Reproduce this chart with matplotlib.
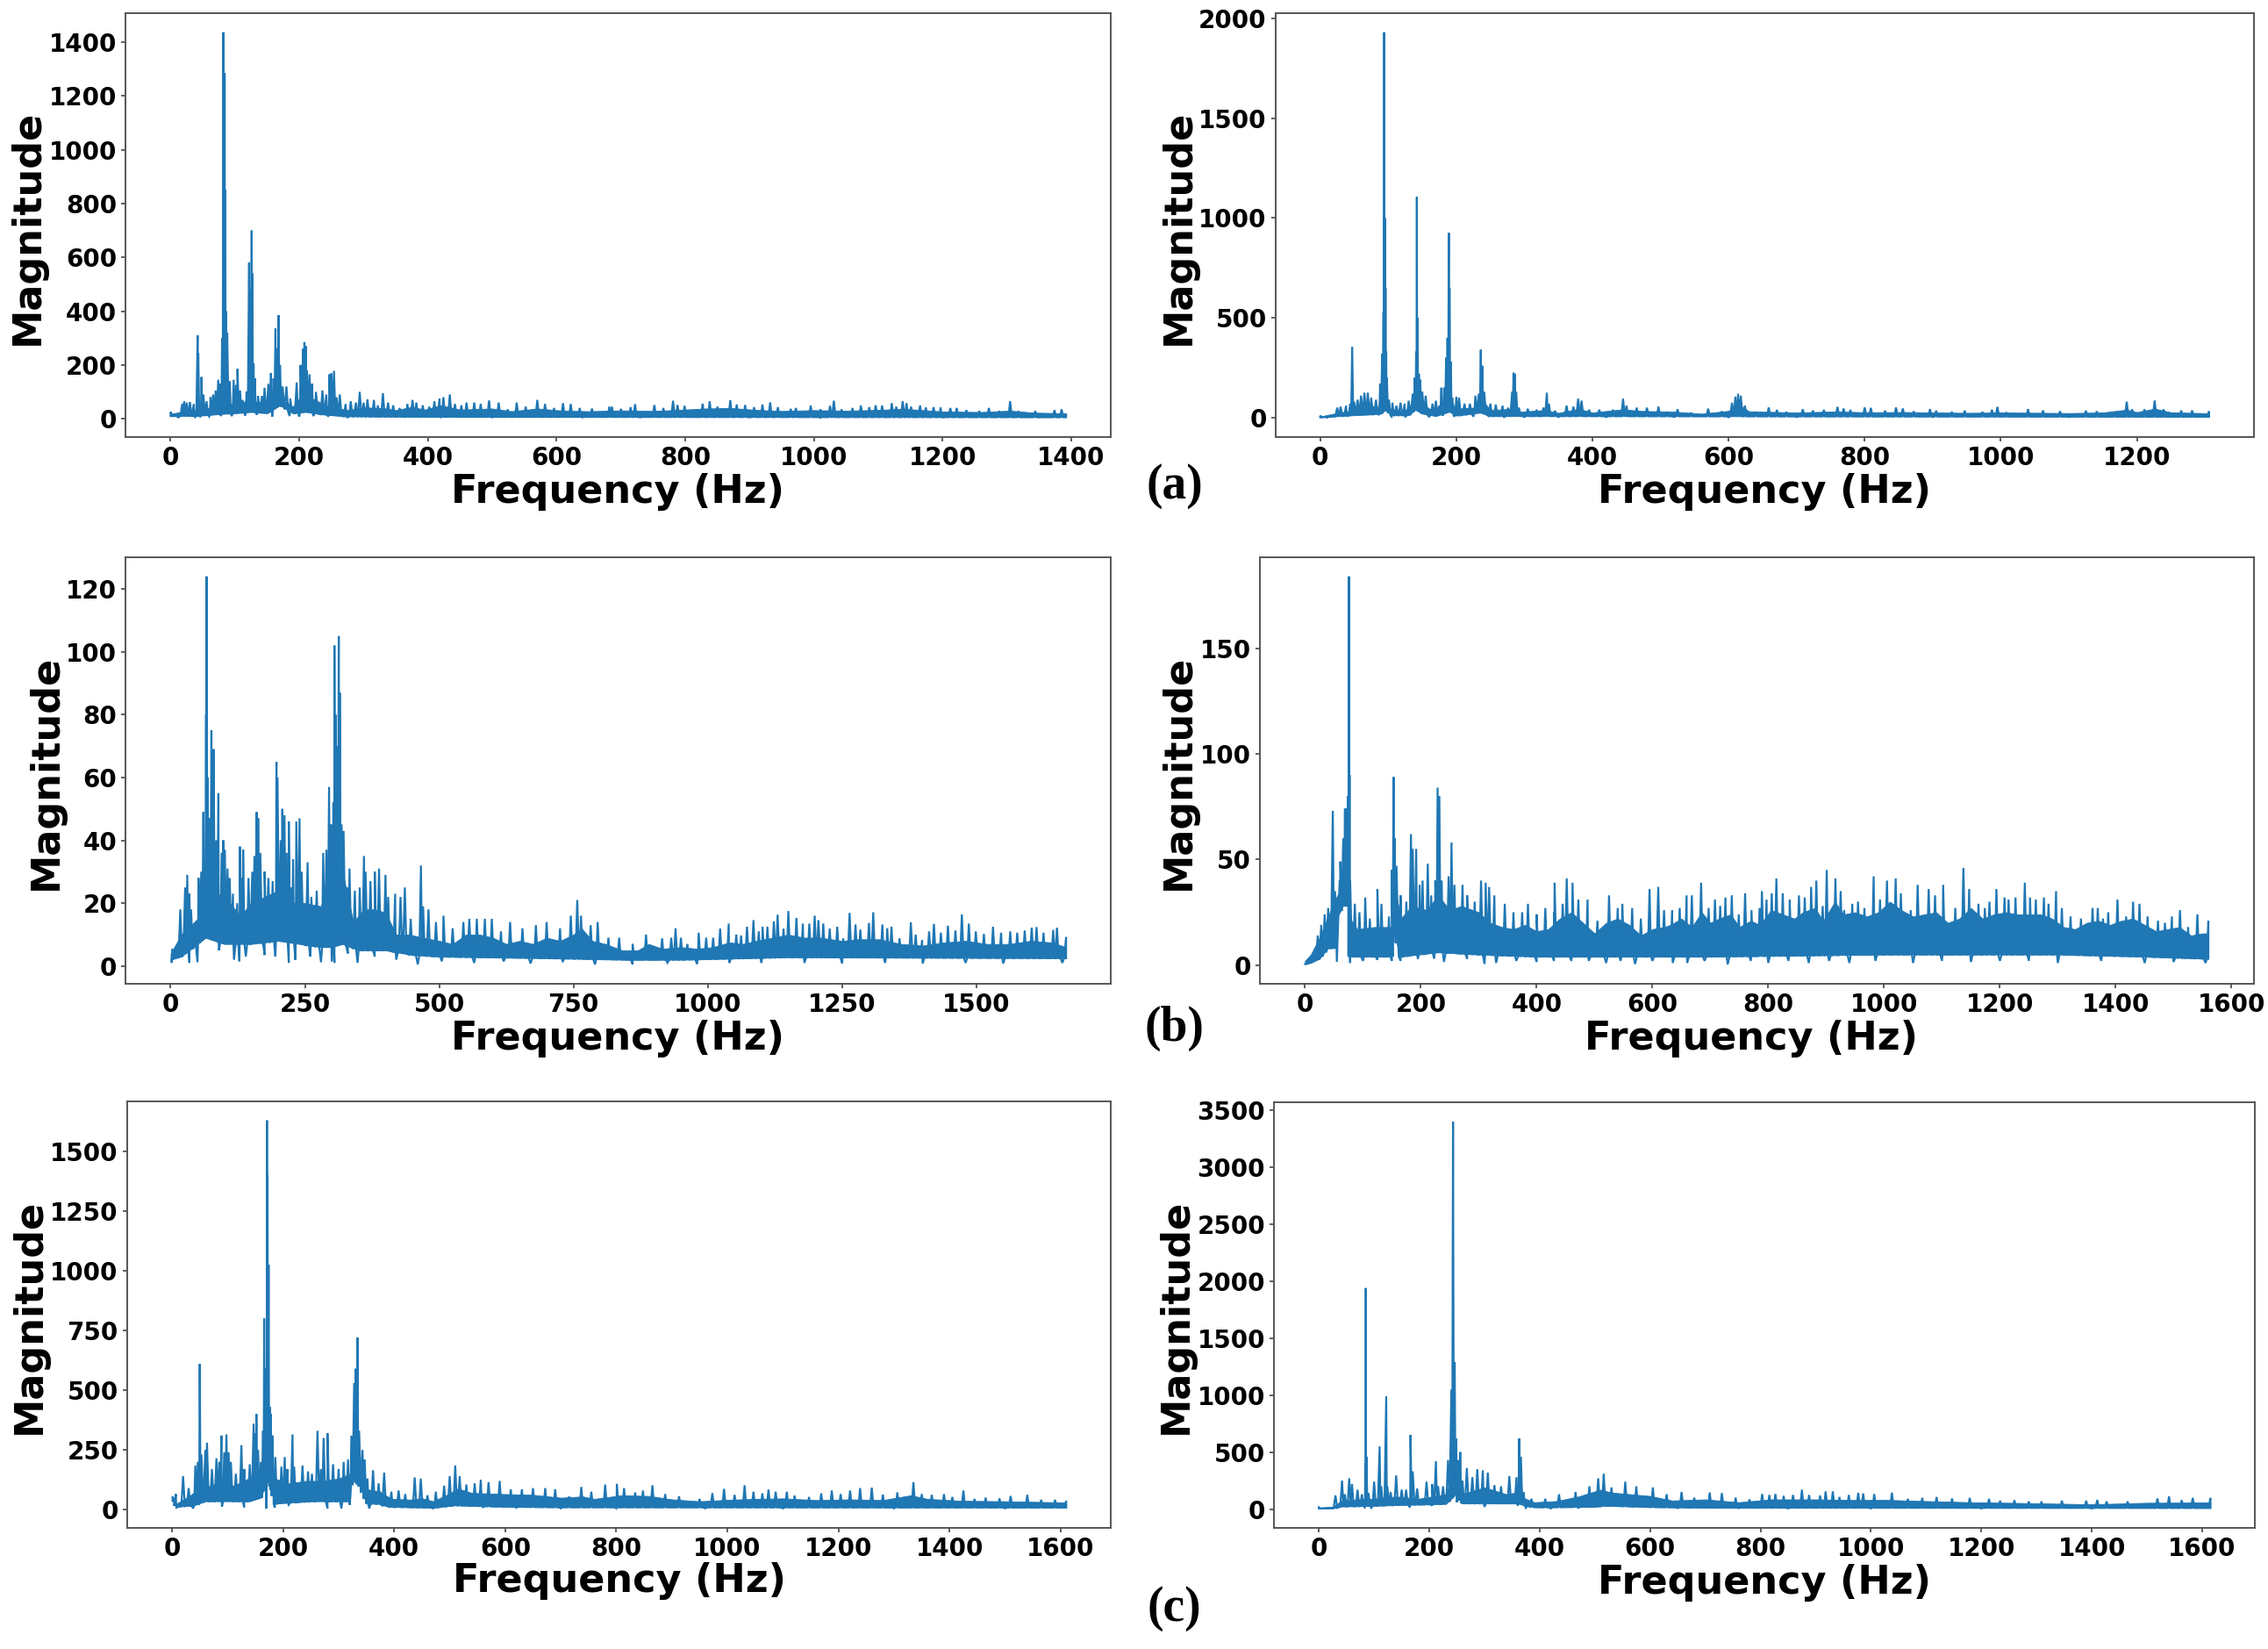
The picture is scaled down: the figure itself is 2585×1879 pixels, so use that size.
import numpy as np
import matplotlib
matplotlib.use("Agg")
import matplotlib.pyplot as plt

# ---------- tick labels ----------
al_xticks = [0, 200, 400, 600, 800, 1000, 1200, 1400]
al_yticks = [0, 200, 400, 600, 800, 1000, 1200, 1400]
ar_xticks = [0, 200, 400, 600, 800, 1000, 1200]
ar_yticks = [0, 500, 1000, 1500, 2000]
bl_xticks = [0, 250, 500, 750, 1000, 1250, 1500]
bl_yticks = [0, 20, 40, 60, 80, 100, 120]
br_xticks = [0, 200, 400, 600, 800, 1000, 1200, 1400, 1600]
br_yticks = [0, 50, 100, 150]
cl_xticks = [0, 200, 400, 600, 800, 1000, 1200, 1400, 1600]
cl_yticks = [0, 250, 500, 750, 1000, 1250, 1500]
cr_xticks = [0, 200, 400, 600, 800, 1000, 1200, 1400, 1600]
cr_yticks = [0, 500, 1000, 1500, 2000, 2500, 3000, 3500]

# ---------- solid core of each spectrum: (frequency Hz, magnitude) along its upper and lower edge ----------
al_hi = [(0,18),(15,25),(30,35),(40,30),(60,40),(78,60),(95,55),(110,50),(120,80),(135,60),(150,70),(160,110),(175,70),(190,45),(205,90),(225,70),(245,45),(258,40),(275,32),(300,42),(330,40),(350,32),(375,44),(395,34),(420,50),(450,34),(500,38),(530,28),(570,38),(610,30),(650,28),(700,31),(750,29),(790,33),(830,38),(870,40),(910,33),(950,29),(1000,32),(1050,30),(1100,33),(1140,37),(1200,27),(1260,25),(1305,30),(1340,23),(1392,20)]
al_lo = [(0,10),(40,10),(80,18),(100,20),(125,25),(150,20),(170,50),(190,20),(210,25),(240,15),(270,9),(400,7),(1392,6)]

ar_hi = [(0,6),(20,20),(45,35),(70,60),(85,55),(92,150),(100,50),(115,30),(130,45),(140,120),(150,70),(165,35),(180,70),(190,120),(198,45),(225,50),(238,90),(250,38),(280,44),(295,30),(330,38),(350,24),(380,44),(400,26),(445,42),(470,34),(520,30),(560,20),(600,34),(614,68),(630,32),(660,29),(700,26),(760,31),(800,27),(860,28),(950,24),(1000,26),(1100,23),(1150,26),(1185,40),(1200,28),(1226,45),(1250,27),(1306,22)]
ar_lo = [(0,2),(20,6),(50,12),(70,15),(90,20),(95,40),(105,12),(130,12),(140,40),(150,20),(170,8),(190,30),(200,10),(235,25),(250,8),(1306,5)]

bl_hi = [(0,4),(20,10),(50,15),(65,25),(100,22),(130,16),(150,20),(175,22),(200,24),(225,20),(250,20),(280,19),(295,28),(320,30),(340,14),(360,18),(380,18),(400,17),(420,10),(445,10),(470,9),(500,8),(525,7),(550,10),(575,10),(600,9),(625,7),(650,8),(675,7),(700,9),(725,8),(750,10),(765,12),(785,8),(810,7),(840,5),(870,5),(890,7),(915,5.5),(950,6),(980,5.5),(1010,6),(1040,7.5),(1065,7),(1090,8),(1120,9),(1150,10),(1180,9),(1210,9),(1250,8),(1280,8.5),(1320,8.5),(1360,7),(1400,6.5),(1440,7.5),(1480,8),(1520,7),(1560,7),(1600,8),(1640,7.5),(1667,6)]
bl_lo = [(0,2),(20,3),(50,7),(65,9),(100,7),(150,7),(200,8),(280,6),(300,6),(320,7),(350,5),(400,5),(450,3.5),(500,3),(700,2.5),(850,2),(950,2),(1150,2.8),(1667,2.5)]

br_hi = [(0,2),(10,5),(25,13),(40,23),(50,30),(60,35),(68,50),(75,70),(78,22),(90,17),(120,18),(150,18),(155,38),(165,22),(185,28),(210,26),(230,33),(250,26),(270,28),(300,25),(320,20),(340,18),(360,17),(380,19),(400,16),(420,17),(440,22),(460,25),(480,20),(500,15),(520,20),(540,22),(560,19),(580,14),(600,17),(620,18),(631,19),(650,22),(668,18),(685,25),(700,20),(715,22),(735,24),(750,18),(770,21),(785,19),(805,26),(825,24),(845,22),(860,25),(880,27),(895,21),(915,30),(930,24),(950,25),(970,23),(990,25),(1010,30),(1030,26),(1050,23),(1070,24),(1090,25),(1110,20),(1130,22),(1150,27),(1170,22),(1190,24),(1210,25),(1230,24),(1250,24),(1270,24),(1290,22),(1310,18),(1330,17),(1350,20),(1370,21),(1390,19),(1410,21),(1430,22),(1450,19),(1470,16),(1490,17),(1510,18),(1530,14),(1550,15),(1560,15)]
br_lo = [(0,0.5),(10,1),(25,3),(40,8),(52,8),(55,22),(65,28),(75,28),(76,4),(100,4),(150,4),(153,15),(165,4),(230,6),(300,5),(400,4),(700,4),(1000,5),(1300,5),(1450,4),(1560,3)]

cl_hi = [(0,50),(8,25),(30,55),(50,90),(70,100),(90,120),(110,100),(130,120),(150,150),(160,170),(172,300),(185,130),(210,110),(240,120),(270,120),(300,130),(320,150),(328,260),(340,200),(352,85),(375,75),(395,45),(430,42),(450,48),(470,35),(495,62),(515,88),(540,70),(600,65),(650,62),(700,50),(740,55),(760,45),(810,60),(860,57),(900,43),(950,35),(1000,41),(1050,45),(1100,47),(1160,40),(1220,43),(1280,40),(1330,60),(1360,45),(1420,37),(1500,35),(1610,30)]
cl_lo = [(0,40),(8,12),(40,18),(60,35),(100,35),(140,35),(160,50),(172,130),(185,25),(250,35),(318,35),(325,130),(340,90),(350,25),(370,25),(390,12),(470,8),(510,18),(600,12),(700,10),(1610,9)]

cr_hi = [(0,12),(25,20),(40,70),(80,90),(100,90),(140,110),(180,90),(230,130),(242,300),(250,350),(258,130),(300,190),(340,130),(362,150),(370,100),(390,60),(430,70),(470,110),(510,170),(530,145),(600,115),(640,75),(700,85),(760,60),(820,85),(900,85),(960,80),(1030,80),(1100,70),(1180,60),(1250,55),(1400,42),(1500,55),(1615,58)]
cr_lo = [(0,5),(25,5),(40,22),(100,28),(140,35),(230,45),(242,100),(250,150),(258,50),(360,50),(370,35),(390,15),(500,20),(520,30),(600,18),(700,12),(1615,10)]

# ---------- spikes: (frequency Hz, magnitude) ----------
al_spikes = [(0,25),(18,55),(21,65),(25,60),(30,62),(36,55),(42,310),(43,245),(48,155),(51,90),(56,65),(62,80),(66,90),(70,105),(74,145),(77,130),(80,300),(82,1437),(83,1000),(84,1285),(85,850),(86,400),(88,320),(92,140),(98,145),(102,125),(104,185),(108,105),(112,70),(118,100),(122,580),(124,480),(126,700),(127,540),(129,205),(131,150),(136,85),(142,85),(146,115),(152,130),(156,170),(160,150),(163,335),(165,260),(168,385),(170,200),(174,120),(180,120),(186,75),(196,135),(202,200),(206,260),(208,285),(210,270),(212,180),(216,165),(220,130),(226,100),(236,105),(242,90),(247,165),(250,170),(254,178),(258,80),(263,90),(272,55),(280,65),(288,60),(294,100),(300,60),(306,72),(316,70),(322,50),(330,95),(338,60),(346,50),(356,40),(368,55),(376,70),(382,60),(392,50),(402,45),(410,65),(418,75),(424,80),(434,90),(442,55),(452,50),(460,60),(472,60),(482,55),(495,68),(510,60),(524,35),(538,60),(552,45),(570,70),(582,55),(596,40),(610,58),(622,55),(636,40),(655,38),(682,45),(686,45),(700,37),(715,43),(722,54),(752,51),(766,40),(781,67),(788,51),(799,48),(827,56),(838,65),(850,45),(870,69),(880,53),(893,51),(907,43),(920,53),(932,61),(944,43),(964,37),(972,40),(995,49),(1010,35),(1025,48),(1031,67),(1043,35),(1060,40),(1073,49),(1086,43),(1096,50),(1106,49),(1121,58),(1128,45),(1138,65),(1144,58),(1151,45),(1165,49),(1174,42),(1186,43),(1197,42),(1212,40),(1222,40),(1237,32),(1257,29),(1272,40),(1288,29),(1305,65),(1318,29),(1344,29),(1374,32),(1385,35),(1392,18)]
al_dips = [(12,5),(38,6),(46,8),(60,8),(78,10),(95,10),(116,12),(134,15),(158,8),(185,10),(200,8),(222,10),(245,8),(275,5),(320,8),(365,6),(420,5),(500,5),(640,5),(730,5),(900,5),(1010,4),(1200,5),(1350,5)]

ar_spikes = [(0,10),(25,50),(30,55),(38,60),(44,70),(47,355),(50,80),(55,90),(60,110),(65,125),(70,125),(75,100),(82,90),(88,170),(91,320),(93,530),(94,1930),(95,1000),(96,650),(97,330),(98,200),(101,90),(106,75),(112,60),(118,75),(124,70),(130,85),(136,120),(139,200),(141,330),(142,1105),(143,500),(145,220),(147,190),(150,130),(155,110),(165,70),(170,85),(175,60),(178,150),(182,150),(185,300),(187,400),(189,925),(190,650),(192,280),(194,100),(200,105),(204,100),(212,70),(220,70),(228,110),(233,120),(236,340),(238,260),(241,130),(250,70),(258,65),(268,60),(276,50),(282,130),(284,225),(286,220),(288,130),(292,50),(305,45),(318,40),(328,50),(333,125),(336,70),(345,35),(362,60),(372,55),(379,95),(384,85),(395,40),(410,40),(430,40),(445,95),(450,60),(465,50),(480,50),(497,55),(510,30),(525,42),(545,25),(570,45),(590,32),(605,75),(610,105),(614,120),(618,110),(624,60),(640,30),(659,51),(671,39),(685,29),(709,42),(724,36),(740,39),(760,54),(769,46),(779,39),(800,51),(809,49),(830,35),(846,51),(856,46),(872,32),(896,43),(905,35),(928,29),(947,35),(973,29),(987,39),(995,54),(1008,27),(1040,43),(1062,36),(1087,32),(1125,35),(1141,32),(1167,29),(1185,80),(1193,42),(1211,42),(1226,86),(1239,42),(1265,36),(1281,36),(1306,32)]
ar_dips = [(10,0),(40,8),(86,15),(105,5),(125,5),(160,5),(180,10),(197,5),(225,5),(270,3),(300,3),(350,3),(420,3),(520,3),(600,2),(700,3),(900,3),(1100,3)]

bl_spikes = [(3,5.5),(10,6),(18,18),(27,25),(31,29),(35,23),(38,18),(52,28),(57,30),(61,49),(64,30),(66,80),(67,124),(69,60),(72,47),(76,75),(78,60),(80,69),(85,40),(89,55),(95,36),(98,40),(101,37),(106,31),(110,28),(116,23),(124,20),(129,38),(133,28),(135,37),(145,28),(152,30),(156,35),(160,49),(163,47),(167,36),(175,30),(182,28),(190,27),(197,65),(199,60),(205,40),(208,50),(212,48),(216,36),(220,46),(224,25),(228,34),(234,46),(240,47),(244,30),(255,33),(262,22),(272,24),(284,36),(290,37),(295,57),(299,45),(303,52),(305,102),(307,80),(310,70),(313,105),(315,87),(318,45),(322,43),(330,25),(333,31),(343,24),(352,25),(360,35),(363,30),(372,27),(380,30),(388,31),(400,29),(405,22),(418,23),(428,22),(436,25),(447,15),(466,32),(470,19),(480,18),(494,14),(508,16),(525,12),(545,14),(556,15),(570,15),(585,15),(598,15),(615,11),(632,14),(655,12),(680,13),(700,14),(725,12),(745,16),(757,21),(764,16),(782,13),(795,14),(815,9),(835,9),(860,7),(885,10),(915,8.8),(932,9),(940,12),(950,9),(962,7),(983,10.6),(997,9),(1010,9),(1023,11.9),(1039,13.5),(1053,10),(1062,9.7),(1073,12.5),(1085,14.6),(1095,11),(1102,12.5),(1111,12.5),(1123,14.2),(1130,16.3),(1141,11.9),(1150,17.5),(1165,15.3),(1177,13.5),(1189,13.5),(1199,16),(1206,14.6),(1215,13.5),(1227,11.9),(1241,12.5),(1252,8.8),(1264,16.9),(1275,13.2),(1284,11.6),(1300,13.7),(1308,17.1),(1325,13.2),(1334,12),(1342,12.5),(1357,8.8),(1378,13.9),(1387,10),(1399,8.3),(1412,11),(1421,13.4),(1434,10.6),(1447,12.8),(1461,11.3),(1473,16.4),(1486,13.5),(1499,11),(1514,10.2),(1531,12.5),(1546,10.6),(1563,11),(1576,10.6),(1590,11.3),(1603,12.2),(1612,12.4),(1625,10.6),(1643,11.5),(1650,12.2),(1667,9.2)]
bl_dips = [(2,1),(35,1),(50,1.2),(90,5),(118,2),(128,1.5),(140,3),(175,3.5),(195,3),(220,1),(232,2),(260,3),(280,1.2),(300,1.5),(305,1),(330,4),(348,1),(380,3),(420,2),(460,0.5),(505,1.5),(565,1),(620,1.5),(670,0.8),(730,1.5),(790,0.5),(860,0.5),(925,1),(980,0.6),(1040,1),(1100,1),(1180,1),(1250,0.8),(1330,1),(1400,0.8),(1480,1),(1550,0.8),(1660,1)]

br_spikes = [(0,0.5),(22,14),(28,19),(34,24),(40,27),(48,73),(52,35),(60,40),(61,49),(66,60),(69,74),(71,74),(74,80),(76,184),(77,90),(78,40),(86,29),(94,25),(104,32),(112,22),(125,36),(132,29),(145,23),(150,45),(153,89),(155,60),(158,47),(165,33),(175,30),(183,62),(186,55),(192,55),(198,38),(203,40),(212,48),(218,33),(225,40),(229,84),(232,80),(236,40),(248,42),(253,58),(258,38),(272,38),(280,33),(293,30),(304,40),(312,39),(318,37),(327,33),(345,29),(360,25),(375,25),(385,29),(400,24),(415,27),(430,25),(431,39),(445,29),(452,41),(462,39),(472,31),(488,31),(505,21),(525,33),(540,27),(548,29),(565,27),(580,22),(595,36),(610,37),(620,26),(634,26),(647,27),(659,33),(668,33),(684,39),(697,27),(708,31),(717,28),(726,32),(737,33),(749,24),(760,34),(771,26),(785,27),(789,35),(797,31),(806,34),(814,41),(825,34),(837,31),(853,33),(863,32),(874,37),(883,40),(894,28),(901,45),(916,41),(925,35),(931,26),(945,29),(955,30),(966,27),(982,42),(993,31),(1005,40),(1020,41),(1029,34),(1046,26),(1058,38),(1077,36),(1088,33),(1102,38),(1123,27),(1137,46),(1147,36),(1163,29),(1174,27),(1182,30),(1194,36),(1208,32),(1215,31),(1227,32),(1243,39),(1252,32),(1262,31),(1276,32),(1284,29),(1297,35),(1307,27),(1322,23),(1340,22),(1360,27),(1369,27),(1378,22),(1387,25),(1403,31),(1418,23),(1430,30),(1441,29),(1455,23),(1473,21),(1485,20),(1497,23),(1511,26),(1525,18),(1541,24),(1560,21)]
br_dips = [(55,1.5),(78,1),(100,2),(125,2.5),(150,2),(165,2),(195,3),(223,3),(240,1.5),(280,3),(310,0.5),(330,1),(365,2),(400,1.5),(430,2),(460,2),(490,2),(520,1),(545,2),(570,0.5),(600,2),(635,1),(660,1),(690,2),(730,0.3),(770,2),(800,1),(835,2),(870,1),(905,2),(940,1),(985,2),(1050,1),(1100,2),(1150,1.5),(1200,2),(1250,2),(1300,1),(1375,2),(1450,1),(1500,1.5),(1555,1)]

cl_spikes = [(1,55),(7,65),(20,140),(30,90),(42,185),(47,200),(50,610),(53,230),(60,250),(63,280),(72,170),(80,215),(85,200),(89,310),(94,240),(98,315),(102,240),(106,200),(115,150),(125,270),(130,170),(140,190),(147,360),(150,320),(152,400),(155,250),(160,200),(164,330),(166,800),(168,590),(171,1630),(172,1400),(174,1025),(176,430),(178,400),(181,310),(186,220),(197,180),(203,220),(208,170),(217,315),(220,180),(235,185),(245,160),(252,150),(262,330),(268,170),(273,300),(280,320),(290,190),(300,170),(309,200),(317,210),(323,310),(328,530),(331,590),(334,720),(337,330),(343,250),(347,210),(352,130),(362,165),(372,110),(382,155),(395,75),(408,80),(420,65),(437,135),(448,130),(460,60),(475,75),(490,100),(500,140),(510,185),(518,140),(530,105),(545,110),(556,125),(570,115),(590,120),(610,85),(630,85),(650,90),(672,90),(690,85),(715,55),(737,95),(755,75),(780,105),(801,108),(814,90),(834,72),(848,80),(865,102),(888,65),(913,56),(950,45),(973,69),(994,87),(1013,62),(1031,102),(1047,75),(1063,68),(1074,84),(1087,75),(1107,75),(1121,59),(1147,53),(1169,68),(1188,80),(1204,65),(1221,80),(1239,90),(1260,92),(1280,63),(1306,72),(1335,115),(1350,65),(1368,62),(1390,65),(1405,53),(1425,80),(1445,45),(1465,50),(1490,47),(1510,57),(1540,62),(1565,41),(1590,41),(1610,37)]
cl_dips = [(8,8),(38,5),(48,20),(90,12),(130,10),(170,5),(185,8),(210,20),(280,5),(305,5),(320,20),(355,5),(400,10),(470,5),(560,10),(620,8),(700,5),(800,5),(960,5),(1100,5),(1300,5),(1500,5)]

cr_spikes = [(0,15),(30,120),(42,250),(47,130),(55,270),(60,220),(70,170),(78,130),(84,400),(85,1940),(86,460),(90,140),(100,240),(110,550),(113,200),(122,990),(124,200),(130,150),(140,295),(150,170),(158,170),(166,650),(170,330),(178,180),(195,240),(205,220),(212,420),(216,200),(225,200),(234,430),(240,1050),(243,3400),(246,1290),(249,620),(253,430),(256,500),(260,250),(268,360),(278,280),(287,350),(297,340),(306,320),(318,210),(330,200),(345,290),(358,280),(363,620),(366,460),(371,150),(385,90),(410,90),(435,130),(465,150),(490,200),(506,270),(516,310),(530,190),(555,240),(575,200),(605,190),(630,130),(657,150),(680,100),(708,145),(730,140),(755,100),(780,85),(803,132),(816,124),(827,132),(842,116),(859,124),(875,170),(888,124),(908,119),(918,155),(931,155),(943,106),(960,124),(977,142),(986,137),(1006,132),(1038,144),(1067,90),(1093,98),(1119,106),(1147,93),(1179,98),(1214,90),(1234,73),(1260,78),(1286,67),(1309,67),(1346,73),(1390,73),(1410,80),(1427,67),(1465,67),(1519,93),(1540,111),(1563,78),(1583,98),(1615,98)]
cr_dips = [(83,15),(95,10),(165,15),(205,30),(250,60),(300,20),(360,30),(375,10),(420,5),(470,10),(650,8),(760,8),(850,5),(1000,5),(1200,5),(1400,5)]

panel_letters = ["(a)", "(b)", "(c)"]

# ---------- layout in pixels of the 2585x1879 canvas ----------
W, H = 2585, 1879
S = 2585 / 1568
fig = plt.figure(figsize=(W / 100, H / 100), dpi=100, facecolor="white")
COLOR = "#1f77b4"


def draw(box, ylab_x, ylab_y, xlab_x, xlab_y, hi, lo, spikes, dips, xt, yt):
    l, t, r, b = [v * S for v in box]
    ax = fig.add_axes([l / W, 1 - b / H, (r - l) / W, (b - t) / H])
    hi_f, hi_m = zip(*hi)
    lo_f, lo_m = zip(*lo)
    core_f = np.union1d(hi_f, lo_f)
    core_lo = np.interp(core_f, lo_f, lo_m)
    core_hi = np.interp(core_f, hi_f, hi_m)
    ax.fill_between(core_f, core_lo, core_hi, color=COLOR, lw=0.6)

    pts = sorted(spikes + dips)
    f = np.array([p[0] for p in pts], float)
    m = np.array([p[1] for p in pts], float)
    px_per_hz = (r - l) / (f.max() * 1.1)
    half = 2.0 / px_per_hz
    xs, ys = [], []
    for i in range(len(f)):
        base = np.interp(f[i], lo_f, lo_m)
        w_left = half if i == 0 else min(half, (f[i] - f[i - 1]) / 2)
        w_right = half if i == len(f) - 1 else min(half, (f[i + 1] - f[i]) / 2)
        xs += [max(f[i] - w_left, f[0]), f[i], min(f[i] + w_right, f[-1])]
        ys += [base, m[i], base]
    ax.plot(xs, ys, color=COLOR, lw=1.6, solid_joinstyle="miter")

    ax.set_xticks(xt)
    ax.set_yticks(yt)
    ax.tick_params(labelsize=20, width=1.2, length=3.5, color="#444444", pad=4)
    for lab in ax.get_xticklabels() + ax.get_yticklabels():
        lab.set_fontweight("bold")
    for s in ax.spines.values():
        s.set_linewidth(1.4)
        s.set_color("#555555")
    ax.set_xlabel("Frequency (Hz)", fontsize=32, fontweight="bold", va="center")
    ax.set_ylabel("Magnitude", fontsize=32, fontweight="bold", va="center")
    ax.xaxis.set_label_coords((xlab_x - box[0]) / (box[2] - box[0]), (box[3] - xlab_y) / (box[3] - box[1]))
    ax.yaxis.set_label_coords((ylab_x - box[0]) / (box[2] - box[0]), (box[3] - ylab_y) / (box[3] - box[1]))
    return ax


draw((87, 9, 768, 302), 19, 157, 427, 340, al_hi, al_lo, al_spikes, al_dips, al_xticks, al_yticks)
draw((882, 9, 1558, 302), 815, 157, 1220, 340, ar_hi, ar_lo, ar_spikes, ar_dips, ar_xticks, ar_yticks)
draw((87, 385, 768, 680), 32, 534, 427, 718, bl_hi, bl_lo, bl_spikes, bl_dips, bl_xticks, bl_yticks)
draw((871, 385, 1558, 680), 815, 534, 1211, 718, br_hi, br_lo, br_spikes, br_dips, br_xticks, br_yticks)
draw((88, 761, 768, 1056), 20, 910, 428, 1093, cl_hi, cl_lo, cl_spikes, cl_dips, cl_xticks, cl_yticks)
draw((881, 762, 1559, 1056), 813, 910, 1220, 1094, cr_hi, cr_lo, cr_spikes, cr_dips, cr_xticks, cr_yticks)

for letter, yy in zip(panel_letters, [336, 711, 1112]):
    fig.text(812 * S / W, 1 - yy * S / H, letter, family="Liberation Serif", fontweight="bold",
             fontsize=40, ha="center", va="center", color="black")

fig.savefig("out.png", dpi=100)
